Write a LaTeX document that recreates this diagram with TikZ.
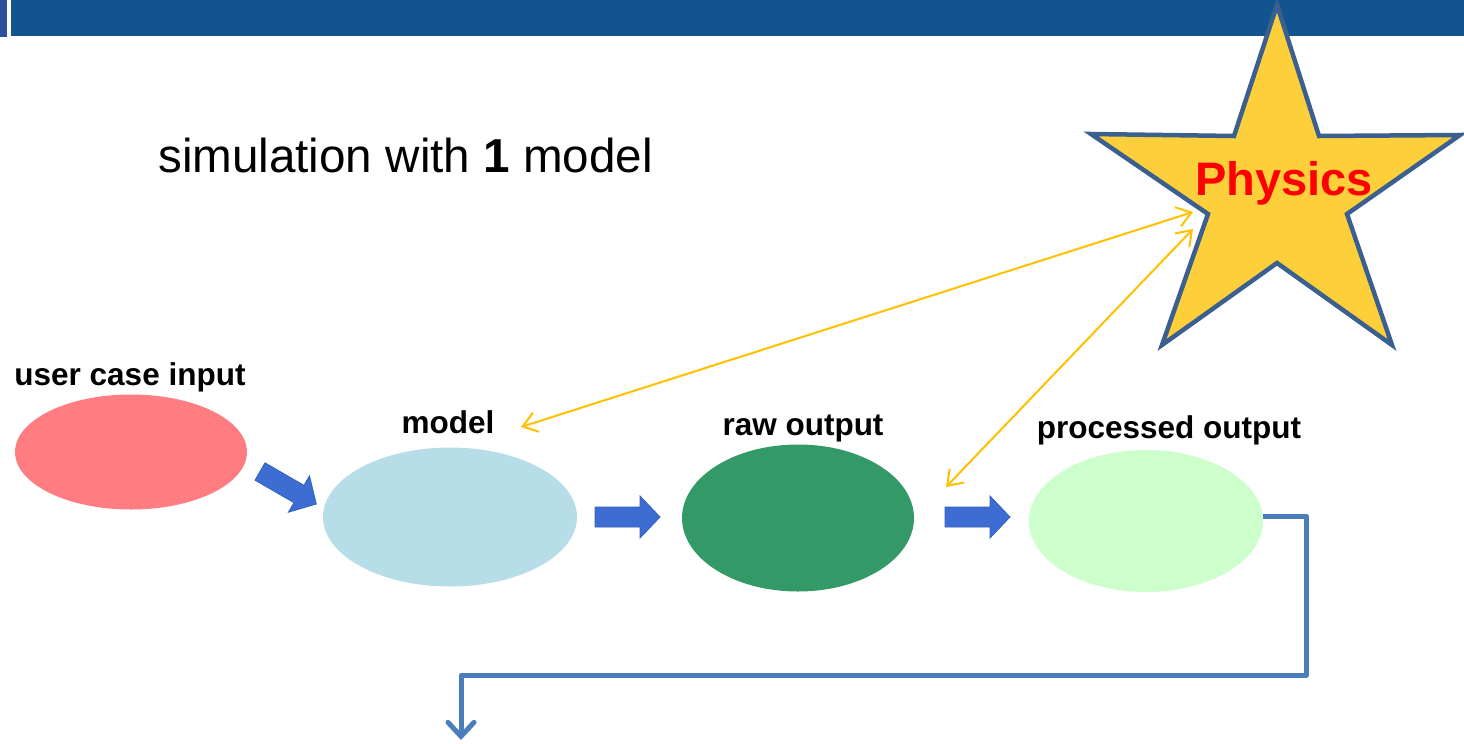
\documentclass[tikz,border=0pt]{standalone}
\usepackage{fontspec}
\setmainfont{Liberation Sans}
\usetikzlibrary{shapes.geometric,arrows.meta}

\definecolor{barblue}{HTML}{12548F}
\definecolor{stripblue}{HTML}{2E4E9E}
\definecolor{blockfill}{HTML}{3D6DD3}
\definecolor{blockedge}{HTML}{2F5FBF}
\definecolor{linkyellow}{HTML}{FFC000}
\definecolor{loopblue}{HTML}{4A7EBB}
\definecolor{starfill}{HTML}{FDCF3A}
\definecolor{staredge}{HTML}{3B6090}
\definecolor{inred}{HTML}{FF7C80}
\definecolor{modelblue}{HTML}{B7DDE8}
\definecolor{rawgreen}{HTML}{339966}
\definecolor{procgreen}{HTML}{CCFFCC}

\tikzset{
  blob/.style={ellipse, inner sep=0pt, draw=none},
  caption/.style={inner sep=0pt, anchor=base, font=\fontsize{31.5}{36}\selectfont\bfseries},
  yellowlink/.style={draw=linkyellow, line width=2pt,
    {Straight Barb[length=14pt,width=20pt]}-{Straight Barb[length=14pt,width=20pt]}},
  feedback/.style={draw=loopblue, line width=5pt, line join=round,
    -{Straight Barb[length=14pt,width=26pt,line cap=round]}},
  blockarrow/.pic={
    \filldraw[fill=blockfill, draw=blockedge, line width=0.8pt]
      (0,-10) -- (45,-10) -- (45,-21) -- (65,0) -- (45,21) -- (45,10) -- (0,10) -- cycle;
  }
}

\begin{document}
\begin{tikzpicture}[x=1pt, y=-1pt]
  \useasboundingbox (0,0) rectangle (1464,744);

  % header bar
  \fill[stripblue] (0,0) rectangle (7,37);
  \fill[barblue] (11,0) rectangle (1464,36);

  % title
  \node[inner sep=0pt, anchor=base west, font=\fontsize{47.6}{56}\selectfont] (title)
    at (158,172) {simulation with \textbf{1} model};

  % stages
  \node[blob, fill=inred, minimum width=232pt, minimum height=115pt] (uci) at (131,452) {};
  \node[blob, fill=modelblue, minimum width=254pt, minimum height=139pt] (mdl) at (450,517) {};
  \node[blob, fill=rawgreen, minimum width=232pt, minimum height=147pt] (raw) at (798,518) {};
  \node[blob, fill=procgreen, minimum width=234pt, minimum height=142pt] (po) at (1146,521) {};

  \node[caption] (ucilabel) at (130,385) {user case input};
  \node[caption] (mdllabel) at (448,433) {model};
  \node[caption] (rawlabel) at (803,435) {raw output};
  \node[caption] (polabel) at (1169,438) {processed output};

  % flow arrows between stages
  \pic[rotate=-30] (flowA) at (260,471.5) {blockarrow};
  \pic (flowB) at (595,517) {blockarrow};
  \pic (flowC) at (945,517) {blockarrow};

  % physics star
  \filldraw[fill=starfill, draw=staredge, line width=4.5pt, miter limit=20]
    (1277,5) -- (1319,136) -- (1460,135) -- (1347,214) -- (1392,345)
    -- (1277,263) -- (1162,345) -- (1208,214) -- (1091,134) -- (1234,136) -- cycle;
  \node[inner sep=0pt, anchor=base, text=red, font=\fontsize{47}{56}\selectfont\bfseries]
    (phys) at (1284,195) {Physics};

  % links to the physics star
  \coordinate (mdlTip) at (521,427);
  \coordinate (rawTip) at (946,487);
  \coordinate (starA) at (1193,212);
  \coordinate (starB) at (1193,229);
  \draw[yellowlink] (mdlTip) -- (starA);
  \draw[yellowlink] (rawTip) -- (starB);

  % feedback line
  \coordinate (loopR) at (1306,675);
  \coordinate (loopL) at (461,675);
  \coordinate (sink) at (461,740);
  \draw[feedback] ([yshift=5pt]po.east) -| (loopR) -- (loopL) -- (sink);
\end{tikzpicture}
\end{document}
